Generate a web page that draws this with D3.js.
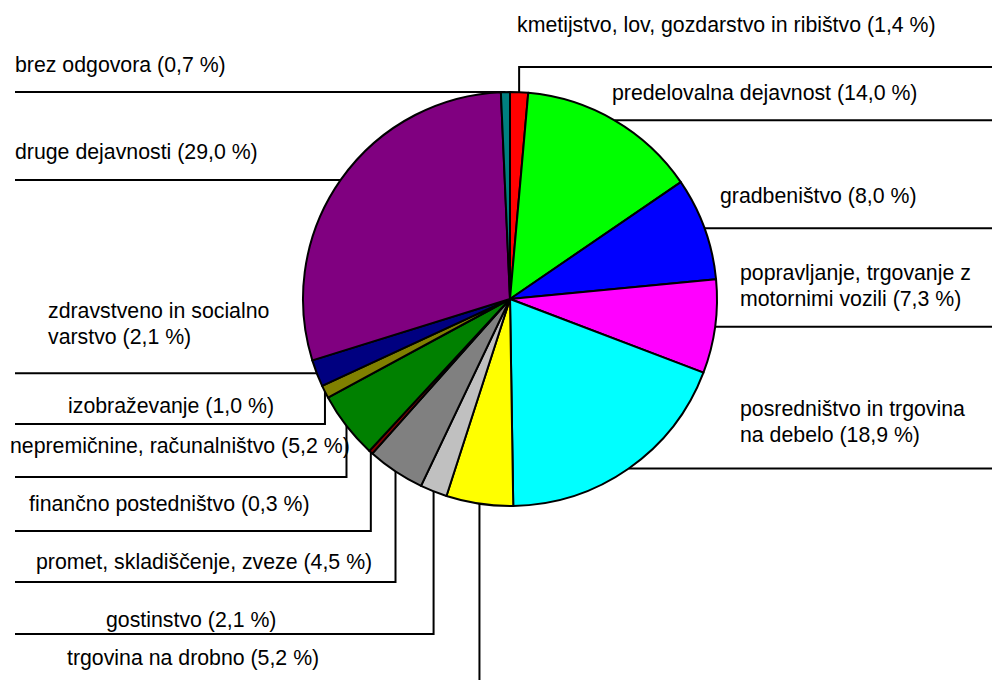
<!DOCTYPE html>
<html>
<head>
<meta charset="utf-8">
<script src="https://cdn.jsdelivr.net/npm/d3@7"></script>
<style>
  html, body { margin: 0; padding: 0; background: #fff; }
  svg { display: block; }
  text { font-family: "Liberation Sans", Arial, sans-serif; font-size: 21.3px; fill: #000; }
</style>
</head>
<body>
<svg id="chart" width="992" height="680"></svg>
<script>
// ---- data ----
const categories = [
  "kmetijstvo, lov, gozdarstvo in ribištvo",
  "predelovalna dejavnost",
  "gradbeništvo",
  "popravljanje, trgovanje z motornimi vozili",
  "posredništvo in trgovina na debelo",
  "trgovina na drobno",
  "gostinstvo",
  "promet, skladiščenje, zveze",
  "finančno postedništvo",
  "nepremičnine, računalništvo",
  "izobraževanje",
  "zdravstveno in socialno varstvo",
  "druge dejavnosti",
  "brez odgovora"
];
const values = [1.4, 14.0, 8.0, 7.3, 18.9, 5.2, 2.1, 4.5, 0.3, 5.2, 1.0, 2.1, 29.0, 0.7];
const colors = ["#FF0000", "#00FF00", "#0000FF", "#FF00FF", "#00FFFF", "#FFFF00", "#C0C0C0",
                "#808080", "#800000", "#008000", "#808000", "#000080", "#800080", "#008080"];

// ---- layout (label placement) ----
const labelLayout = [
  { side: "right", tx: 517, ty: 32,  lineY: 67,  brk: null },
  { side: "right", tx: 612, ty: 100, lineY: null, brk: null },
  { side: "right", tx: 720, ty: 203, lineY: null, brk: null },
  { side: "right", tx: 740, ty: 280, lineY: null, brk: "popravljanje, trgovanje z" },
  { side: "right", tx: 740, ty: 416, lineY: null, brk: "posredništvo in trgovina" },
  { side: "left",  tx: 67,  ty: 665, lineY: 720, brk: null },
  { side: "left",  tx: 106, ty: 627, lineY: 634, brk: null },
  { side: "left",  tx: 36,  ty: 569, lineY: 582, brk: null },
  { side: "left",  tx: 29,  ty: 511, lineY: 531, brk: null },
  { side: "left",  tx: 10,  ty: 453, lineY: 477, brk: null },
  { side: "left",  tx: 68,  ty: 413, lineY: 424, brk: null },
  { side: "left",  tx: 48,  ty: 318, lineY: null, brk: "zdravstveno in socialno" },
  { side: "left",  tx: 15,  ty: 159, lineY: null, brk: null },
  { side: "left",  tx: 15,  ty: 72,  lineY: null, brk: null }
];

const W = 992, H = 680;
const cx = 510, cy = 299, R = 207;
const leftEdge = 15, rightEdge = 992, lineGap = 26;

const svg = d3.select("#chart");
const g = svg.append("g").attr("transform", `translate(${cx},${cy})`);

const pie = d3.pie().sort(null).value(d => d);
const arcs = pie(values);
const arc = d3.arc().innerRadius(0).outerRadius(R);

g.selectAll("path.slice")
  .data(arcs)
  .join("path")
  .attr("class", "slice")
  .attr("d", arc)
  .attr("fill", (d, i) => colors[i])
  .attr("stroke", "#000")
  .attr("stroke-width", 2)
  .attr("stroke-linejoin", "round");

const fmt = v => v.toFixed(1).replace(".", ",");

// leader lines
const leaders = svg.append("g")
  .attr("fill", "none")
  .attr("stroke", "#000")
  .attr("stroke-width", 2);

arcs.forEach((a, i) => {
  const L = labelLayout[i];
  const mid = (a.startAngle + a.endAngle) / 2;
  const px = cx + R * Math.sin(mid);
  const py = cy - R * Math.cos(mid);
  const endX = L.side === "right" ? rightEdge : leftEdge;
  const p = d3.path();
  p.moveTo(px, py);
  if (L.lineY !== null) {
    p.lineTo(px, L.lineY);
    p.lineTo(endX, L.lineY);
  } else {
    p.lineTo(endX, py);
  }
  leaders.append("path").attr("d", p.toString());
});

// labels
const labels = svg.append("g");
categories.forEach((name, i) => {
  const L = labelLayout[i];
  const full = `${name} (${fmt(values[i])} %)`;
  let lines = [full];
  if (L.brk && full.startsWith(L.brk)) {
    lines = [L.brk, full.slice(L.brk.length).trim()];
  }
  const t = labels.append("text").attr("x", L.tx).attr("y", L.ty);
  lines.forEach((ln, k) => {
    t.append("tspan").attr("x", L.tx).attr("dy", k === 0 ? 0 : lineGap).text(ln);
  });
});
</script>
</body>
</html>
